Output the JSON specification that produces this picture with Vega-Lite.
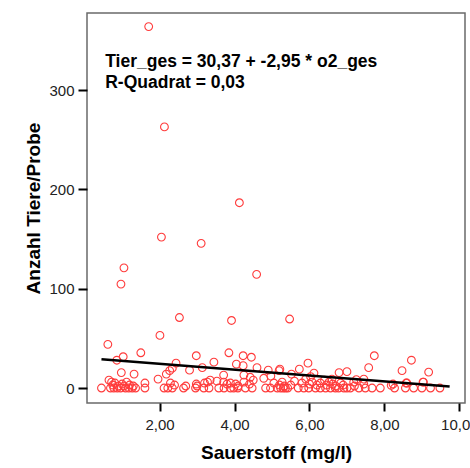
{
  "$schema": "https://vega.github.io/schema/vega-lite/v6.json",
  "autosize": "none",
  "padding": {"left": 87, "top": 13, "right": 5, "bottom": 65},
  "width": 378,
  "height": 390,
  "background": "#ffffff",
  "config": {
    "view": {"stroke": "#6a6a6a", "strokeWidth": 1.5},
    "font": "Liberation Sans"
  },
  "datasets": {
    "pts": [
      {"o2":1.71,"tier":364},{"o2":2.13,"tier":263},{"o2":4.13,"tier":186.6},{"o2":2.05,"tier":152},{"o2":3.11,"tier":145.7},
      {"o2":1.05,"tier":121},{"o2":0.97,"tier":104.7},{"o2":4.59,"tier":114.5},
      {"o2":2.53,"tier":71},{"o2":3.92,"tier":68},{"o2":5.47,"tier":69.5},{"o2":2.01,"tier":53},{"o2":0.62,"tier":44},
      {"o2":1.50,"tier":35.5},{"o2":2.98,"tier":32.5},{"o2":3.85,"tier":35.5},{"o2":4.23,"tier":32.5},{"o2":4.45,"tier":31},
      {"o2":7.73,"tier":32.5},{"o2":8.72,"tier":28},{"o2":5.96,"tier":25},{"o2":7.58,"tier":20.5},{"o2":8.47,"tier":17.5},
      {"o2":9.18,"tier":16},{"o2":1.03,"tier":31.5},{"o2":0.86,"tier":28},{"o2":3.45,"tier":26},{"o2":2.44,"tier":25},
      {"o2":4.05,"tier":24},{"o2":3.14,"tier":20.5},{"o2":4.6,"tier":20.5},{"o2":2.8,"tier":18},{"o2":4.9,"tier":18},
      {"o2":5.21,"tier":19},{"o2":5.73,"tier":19},{"o2":4.23,"tier":22.5},{"o2":7.0,"tier":16.5},{"o2":6.79,"tier":15.5},
      {"o2":6.12,"tier":15},{"o2":0.98,"tier":15.5},{"o2":1.32,"tier":14},{"o2":2.18,"tier":14},{"o2":2.27,"tier":17.5},
      {"o2":2.34,"tier":20},{"o2":5.52,"tier":14},{"o2":5.19,"tier":17.5},{"o2":4.42,"tier":10.8},{"o2":4.25,"tier":13},
      {"o2":3.71,"tier":13},{"o2":4.78,"tier":9.8},{"o2":1.96,"tier":9},{"o2":6.03,"tier":11.4},{"o2":7.45,"tier":9},
      {"o2":7.25,"tier":8.5},{"o2":9.04,"tier":6},{"o2":8.58,"tier":5},{"o2":8.18,"tier":2.7},
      {"o2":0.45,"tier":0},{"o2":0.69,"tier":0},{"o2":0.78,"tier":0},{"o2":0.87,"tier":0},{"o2":0.96,"tier":0},
      {"o2":1.09,"tier":0},{"o2":1.18,"tier":0},{"o2":1.27,"tier":0},{"o2":1.36,"tier":0},{"o2":1.61,"tier":0},
      {"o2":2.12,"tier":0},{"o2":2.22,"tier":0},{"o2":2.34,"tier":0},{"o2":2.64,"tier":0},{"o2":2.96,"tier":0},
      {"o2":3.18,"tier":0},{"o2":3.32,"tier":0},{"o2":3.58,"tier":0},{"o2":3.72,"tier":0},{"o2":3.89,"tier":0},
      {"o2":3.98,"tier":0},{"o2":4.09,"tier":0},{"o2":4.29,"tier":0},{"o2":4.47,"tier":0},{"o2":4.83,"tier":0},
      {"o2":4.96,"tier":0},{"o2":5.14,"tier":0},{"o2":5.23,"tier":0},{"o2":5.30,"tier":0},{"o2":5.36,"tier":0},
      {"o2":5.42,"tier":0},{"o2":5.70,"tier":0},{"o2":5.85,"tier":0},{"o2":5.98,"tier":0},{"o2":6.16,"tier":0},
      {"o2":6.29,"tier":0},{"o2":6.43,"tier":0},{"o2":6.56,"tier":0},{"o2":6.69,"tier":0},{"o2":6.78,"tier":0},
      {"o2":6.92,"tier":0},{"o2":7.00,"tier":0},{"o2":7.09,"tier":0},{"o2":7.32,"tier":0},{"o2":7.49,"tier":0},
      {"o2":7.67,"tier":0},{"o2":7.89,"tier":0},{"o2":8.27,"tier":0},{"o2":8.56,"tier":0},{"o2":8.78,"tier":0},
      {"o2":9.00,"tier":0},{"o2":9.23,"tier":0},{"o2":9.48,"tier":0},
      {"o2":0.72,"tier":6},{"o2":0.81,"tier":5},{"o2":0.75,"tier":3},{"o2":0.9,"tier":2},{"o2":1.0,"tier":4},
      {"o2":1.12,"tier":6},{"o2":1.05,"tier":2},{"o2":1.2,"tier":3},{"o2":1.3,"tier":2},{"o2":1.61,"tier":5},
      {"o2":2.29,"tier":5},{"o2":2.4,"tier":3},{"o2":2.98,"tier":4},{"o2":3.2,"tier":5},{"o2":3.28,"tier":6},
      {"o2":3.35,"tier":8},{"o2":3.53,"tier":7},{"o2":3.71,"tier":6},{"o2":3.8,"tier":4},{"o2":3.89,"tier":5},
      {"o2":4.03,"tier":4},{"o2":4.25,"tier":6},{"o2":4.1,"tier":2},{"o2":5.05,"tier":5},{"o2":5.27,"tier":6},
      {"o2":5.2,"tier":3},{"o2":5.33,"tier":2},{"o2":5.8,"tier":5},{"o2":6.07,"tier":6},{"o2":6.2,"tier":3},
      {"o2":6.29,"tier":5},{"o2":6.52,"tier":6},{"o2":6.62,"tier":4},{"o2":6.83,"tier":5},{"o2":6.7,"tier":2},
      {"o2":7.18,"tier":6},{"o2":7.45,"tier":4},{"o2":8.23,"tier":4},{"o2":8.6,"tier":5},{"o2":9.03,"tier":6},
      {"o2":6.4,"tier":8},{"o2":6.6,"tier":9},{"o2":5.9,"tier":9},{"o2":4.97,"tier":12},{"o2":3.0,"tier":2},
      {"o2":2.7,"tier":2},{"o2":6.9,"tier":3},{"o2":7.2,"tier":2},{"o2":5.5,"tier":3},{"o2":5.6,"tier":7},
      {"o2":6.0,"tier":4},{"o2":6.45,"tier":3},{"o2":4.4,"tier":4},{"o2":4.5,"tier":8},{"o2":0.65,"tier":8}
    ],
    "fit": [
      {"o2":0.45,"fit":29.04},{"o2":9.74,"fit":1.64}
    ]
  },
  "layer": [
    {
      "data": {"name": "pts"},
      "mark": {"type": "point", "shape": "circle", "filled": false, "size": 60, "strokeWidth": 1.1, "color": "#ff3b3b", "opacity": 1},
      "encoding": {
        "x": {
          "field": "o2", "type": "quantitative",
          "scale": {"domain": [0.064, 10.15], "nice": false, "zero": false},
          "axis": {
            "title": "Sauerstoff (mg/l)",
            "values": [2, 4, 6, 8, 10],
            "labelExpr": "replace(format(datum.value, '.2f'), '.', ',')",
            "grid": false, "domain": false,
            "tickColor": "#000000", "tickWidth": 2, "tickSize": 8,
            "labelFont": "Liberation Sans", "labelFontSize": 15, "labelColor": "#222222", "labelPadding": 6,
            "labelFlush": false,
            "titleFont": "Liberation Sans", "titleFontSize": 19, "titleFontWeight": "bold", "titleColor": "#000000",
            "titlePadding": 11
          }
        },
        "y": {
          "field": "tier", "type": "quantitative",
          "scale": {"domain": [-15.1, 377.7], "nice": false, "zero": false},
          "axis": {
            "title": "Anzahl Tiere/Probe",
            "values": [0, 100, 200, 300],
            "grid": false, "domain": false,
            "tickColor": "#000000", "tickWidth": 2, "tickSize": 9,
            "labelFont": "Liberation Sans", "labelFontSize": 15, "labelColor": "#222222", "labelPadding": 4,
            "labelFlush": false,
            "titleFont": "Liberation Sans", "titleFontSize": 19, "titleFontWeight": "bold", "titleColor": "#000000",
            "titlePadding": 5
          }
        }
      }
    },
    {
      "data": {"name": "fit"},
      "mark": {"type": "line", "color": "#000000", "strokeWidth": 2.5},
      "encoding": {
        "x": {"field": "o2", "type": "quantitative"},
        "y": {"field": "fit", "type": "quantitative"}
      }
    },
    {
      "data": {"values": [{"label": ["Tier_ges = 30,37 + -2,95 * o2_ges", "R-Quadrat = 0,03"]}]},
      "mark": {"type": "text", "align": "left", "baseline": "alphabetic", "font": "Liberation Sans", "fontSize": 17.5, "fontWeight": "bold", "color": "#000000", "lineHeight": 21},
      "encoding": {
        "x": {"datum": 0.55, "type": "quantitative"},
        "y": {"datum": 323.5, "type": "quantitative"},
        "text": {"field": "label"}
      }
    }
  ]
}
